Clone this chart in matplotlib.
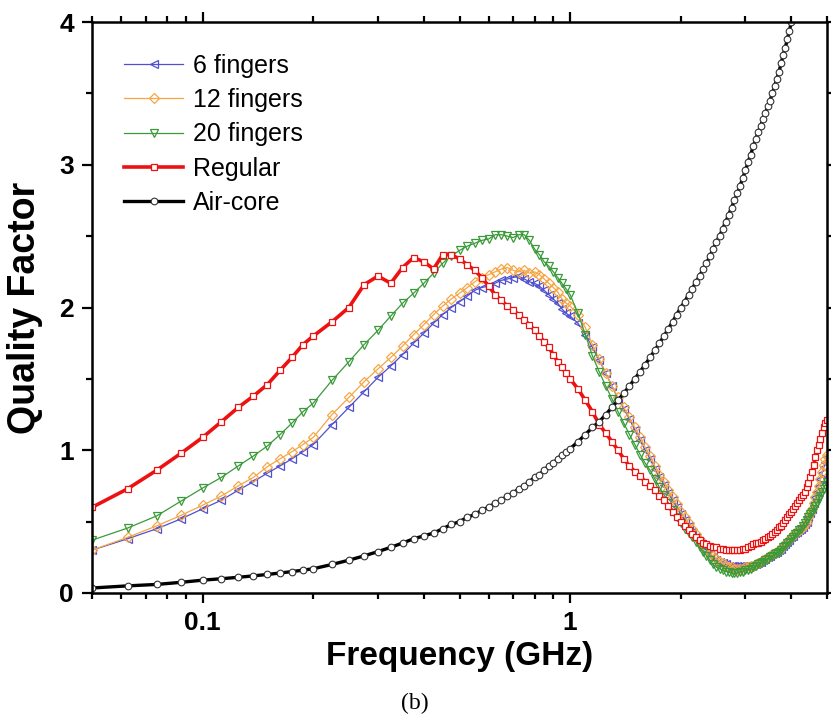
import numpy as np
import matplotlib
matplotlib.use("Agg")
import matplotlib.pyplot as plt
from matplotlib.ticker import LogLocator, FixedLocator, MultipleLocator, NullFormatter

# ---- data ----
freq_low = [0.05, 0.0625, 0.075, 0.0875, 0.1, 0.1125, 0.125, 0.1375, 0.15, 0.1625, 0.175, 0.1875]
freq_mid = list(np.round(np.arange(0.2, 0.9751, 0.025), 4))
freq_high = list(np.round(np.arange(1.0, 5.0001, 0.05), 3))
freq = np.array(freq_low + freq_mid + freq_high)

q_regular = [
    0.60, 0.73, 0.86, 0.98, 1.09, 1.20, 1.30, 1.38, 1.46, 1.56, 1.65, 1.74,
    1.80, 1.90, 2.00, 2.16, 2.22, 2.17, 2.28, 2.35, 2.32, 2.27, 2.37, 2.37, 2.34, 2.30, 2.26, 2.21,
    2.15, 2.09, 2.05, 2.01, 1.98, 1.95, 1.91, 1.88, 1.84, 1.80, 1.76, 1.72, 1.67, 1.62, 1.58, 1.54,
    1.50, 1.43, 1.35, 1.27, 1.18, 1.12, 1.06, 1.00, 0.94, 0.89,
    0.85, 0.82, 0.78, 0.75, 0.72, 0.68, 0.65, 0.61, 0.57, 0.53,
    0.50, 0.47, 0.44, 0.41, 0.39, 0.37, 0.35, 0.34, 0.33, 0.32,
    0.32, 0.31, 0.31, 0.30, 0.30, 0.30, 0.30, 0.30, 0.30, 0.31,
    0.31, 0.32, 0.33, 0.34, 0.35, 0.35, 0.36, 0.37, 0.38, 0.39,
    0.40, 0.41, 0.43, 0.44, 0.46, 0.47, 0.49, 0.51, 0.53, 0.55,
    0.57, 0.59, 0.61, 0.63, 0.65, 0.67, 0.69, 0.71, 0.74, 0.77,
    0.81, 0.85, 0.90, 0.95, 1.00, 1.04, 1.08, 1.12, 1.16, 1.19,
    1.21]

q_20 = [
    0.37, 0.455, 0.54, 0.645, 0.735, 0.81, 0.89, 0.96, 1.03, 1.11, 1.19, 1.27,
    1.33, 1.49, 1.62, 1.74, 1.84, 1.94, 2.03, 2.10, 2.17, 2.24, 2.31, 2.36, 2.40, 2.43, 2.45, 2.47,
    2.48, 2.51, 2.51, 2.50, 2.49, 2.51, 2.51, 2.47, 2.41, 2.37, 2.32, 2.29, 2.25, 2.21, 2.17, 2.13,
    2.09, 1.96, 1.81, 1.66, 1.55, 1.45, 1.36, 1.27, 1.19, 1.11,
    1.04, 0.97, 0.91, 0.86, 0.80, 0.74, 0.69, 0.63, 0.58, 0.53,
    0.49, 0.45, 0.42, 0.39, 0.36, 0.32, 0.29, 0.26, 0.23, 0.20,
    0.18, 0.17, 0.16, 0.15, 0.15, 0.14, 0.14, 0.14, 0.15, 0.15,
    0.16, 0.16, 0.17, 0.18, 0.19, 0.20, 0.21, 0.22, 0.23, 0.24,
    0.25, 0.26, 0.27, 0.28, 0.29, 0.30, 0.32, 0.33, 0.35, 0.36,
    0.38, 0.39, 0.41, 0.42, 0.44, 0.45, 0.47, 0.49, 0.51, 0.53,
    0.55, 0.57, 0.59, 0.61, 0.63, 0.66, 0.68, 0.71, 0.73, 0.76,
    0.78]

q_12 = [
    0.30, 0.39, 0.47, 0.545, 0.615, 0.68, 0.75, 0.81, 0.885, 0.94, 0.99, 1.04,
    1.09, 1.25, 1.37, 1.48, 1.57, 1.65, 1.73, 1.81, 1.88, 1.95, 2.01, 2.06, 2.10, 2.14, 2.18, 2.21,
    2.23, 2.25, 2.27, 2.28, 2.26, 2.25, 2.26, 2.24, 2.25, 2.23, 2.20, 2.17, 2.14, 2.11, 2.06, 2.03,
    2.01, 1.95, 1.86, 1.74, 1.64, 1.54, 1.45, 1.37, 1.30, 1.23,
    1.16, 1.09, 1.02, 0.96, 0.89, 0.83, 0.78, 0.72, 0.67, 0.62,
    0.57, 0.53, 0.49, 0.45, 0.41, 0.37, 0.34, 0.31, 0.28, 0.26,
    0.24, 0.22, 0.21, 0.19, 0.18, 0.18, 0.17, 0.17, 0.17, 0.17,
    0.18, 0.18, 0.19, 0.19, 0.20, 0.21, 0.22, 0.23, 0.24, 0.25,
    0.26, 0.27, 0.28, 0.29, 0.30, 0.31, 0.33, 0.34, 0.36, 0.37,
    0.39, 0.40, 0.42, 0.43, 0.44, 0.45, 0.46, 0.48, 0.50, 0.53,
    0.56, 0.59, 0.63, 0.67, 0.71, 0.75, 0.80, 0.85, 0.90, 0.94,
    0.97]

q_6 = [
    0.30, 0.38, 0.45, 0.52, 0.59, 0.65, 0.72, 0.78, 0.84, 0.89, 0.94, 0.99,
    1.04, 1.18, 1.30, 1.41, 1.51, 1.59, 1.67, 1.75, 1.82, 1.89, 1.95, 2.00, 2.04, 2.08, 2.12, 2.14,
    2.15, 2.17, 2.19, 2.20, 2.21, 2.22, 2.20, 2.18, 2.17, 2.15, 2.12, 2.09, 2.06, 2.03, 1.99, 1.96,
    1.94, 1.89, 1.81, 1.72, 1.63, 1.54, 1.45, 1.36, 1.29, 1.22,
    1.14, 1.07, 1.00, 0.94, 0.87, 0.81, 0.76, 0.70, 0.65, 0.60,
    0.55, 0.51, 0.47, 0.43, 0.39, 0.36, 0.33, 0.30, 0.27, 0.25,
    0.23, 0.22, 0.21, 0.20, 0.19, 0.19, 0.19, 0.19, 0.19, 0.19,
    0.19, 0.19, 0.19, 0.20, 0.20, 0.21, 0.22, 0.23, 0.24, 0.25,
    0.26, 0.27, 0.28, 0.29, 0.30, 0.31, 0.33, 0.34, 0.36, 0.37,
    0.39, 0.40, 0.42, 0.43, 0.44, 0.45, 0.46, 0.48, 0.50, 0.53,
    0.56, 0.59, 0.63, 0.67, 0.71, 0.75, 0.80, 0.84, 0.88, 0.92,
    0.95]

nan = float("nan")
q_air = [
    0.035, 0.05, 0.06, 0.075, 0.09, 0.10, 0.11, 0.12, 0.13, 0.14, 0.15, 0.16,
    0.17, 0.20, 0.23, 0.26, 0.29, 0.32, 0.35, 0.38, 0.40, 0.42, 0.45, 0.48, 0.50, 0.53, 0.55, 0.58,
    0.60, 0.63, 0.65, 0.68, 0.70, 0.73, 0.75, 0.78, 0.81, 0.83, 0.86, 0.89, 0.91, 0.94, 0.97, 0.99,
    1.01, 1.06, 1.11, 1.16, 1.20, 1.25, 1.30, 1.35, 1.40, 1.45,
    1.50, 1.55, 1.60, 1.65, 1.70, 1.75, 1.80, 1.85, 1.90, 1.95,
    2.00, 2.04, 2.09, 2.13, 2.18, 2.22, 2.27, 2.31, 2.36, 2.41,
    2.46, 2.50, 2.55, 2.60, 2.65, 2.70, 2.75, 2.80, 2.85, 2.91,
    2.96, 3.02, 3.07, 3.13, 3.18, 3.23, 3.27, 3.32, 3.36, 3.41,
    3.45, 3.50, 3.55, 3.60, 3.65, 3.71, 3.77, 3.82, 3.88, 3.94,
    4.00, nan, nan, nan, nan, nan, nan, nan, nan, nan,
    nan, nan, nan, nan, nan, nan, nan, nan, nan, nan,
    nan]

labels = ["6 fingers", "12 fingers", "20 fingers", "Regular", "Air-core"]
x_ticks = [0.1, 1]
x_ticklabels = ["0.1", "1"]
y_ticks = [0, 1, 2, 3, 4]

# ---- figure ----
plt.rcParams['font.family'] = ['Liberation Sans', 'DejaVu Sans']
fig = plt.figure(figsize=(8.31, 7.22), dpi=100)
ax = fig.add_axes([92/831, 1-593/722, (827-92)/831, (593-22)/722])

ax.plot(freq, q_6, color='#5050d0', lw=0.9, marker='<', ms=6, mfc='none', mec='#5050d0', mew=0.9, label=labels[0])
ax.plot(freq, q_12, color='#f5a645', lw=0.9, marker='D', ms=4.8, mfc='none', mec='#f5a645', mew=0.9, label=labels[1])
ax.plot(freq, q_20, color='#3a9a3a', lw=0.9, marker='v', ms=6.2, mfc='none', mec='#3a9a3a', mew=0.9, label=labels[2])
ax.plot(freq, q_regular, color='#ee1111', lw=2.6, marker='s', ms=4.8, mfc='white', mec='#ee1111', mew=0.9, label=labels[3])
ax.plot(freq, q_air, color='black', lw=2.4, marker='o', ms=4.8, mfc='white', mec='#333333', mew=0.8, label=labels[4])

ax.set_xscale('log')
ax.set_xlim(0.05, 5.0)
ax.set_ylim(0, 4)
ax.xaxis.set_major_locator(FixedLocator(x_ticks))
ax.set_xticklabels(x_ticklabels)
ax.xaxis.set_minor_locator(LogLocator(base=10, subs=np.arange(2, 10)))
ax.xaxis.set_minor_formatter(NullFormatter())
ax.yaxis.set_major_locator(FixedLocator(y_ticks))
ax.yaxis.set_minor_locator(MultipleLocator(0.5))

for s in ax.spines.values():
    s.set_linewidth(1.8)
ax.tick_params(which='both', direction='out', top=True, right=True, width=1.6)
ax.tick_params(which='major', length=7, pad=6, labelsize=19)
ax.tick_params(which='minor', length=4.5)
for lab in ax.get_xticklabels() + ax.get_yticklabels():
    lab.set_fontweight('bold')

ax.set_xlabel('Frequency (GHz)', fontsize=24, fontweight='bold', labelpad=4)
ax.set_ylabel('Quality Factor', fontsize=27, fontweight='bold', labelpad=12)

leg = ax.legend(loc='upper left', bbox_to_anchor=(0.02, 0.975), frameon=False,
                fontsize=18, handlelength=2.35, handletextpad=0.4, labelspacing=0.41,
                borderaxespad=0.3)

fig.text(415/831, 1-703/722, '(b)', ha='center', va='center', fontsize=17,
         family=['Liberation Serif', 'DejaVu Serif'])

fig.savefig('out.png', dpi=100)
